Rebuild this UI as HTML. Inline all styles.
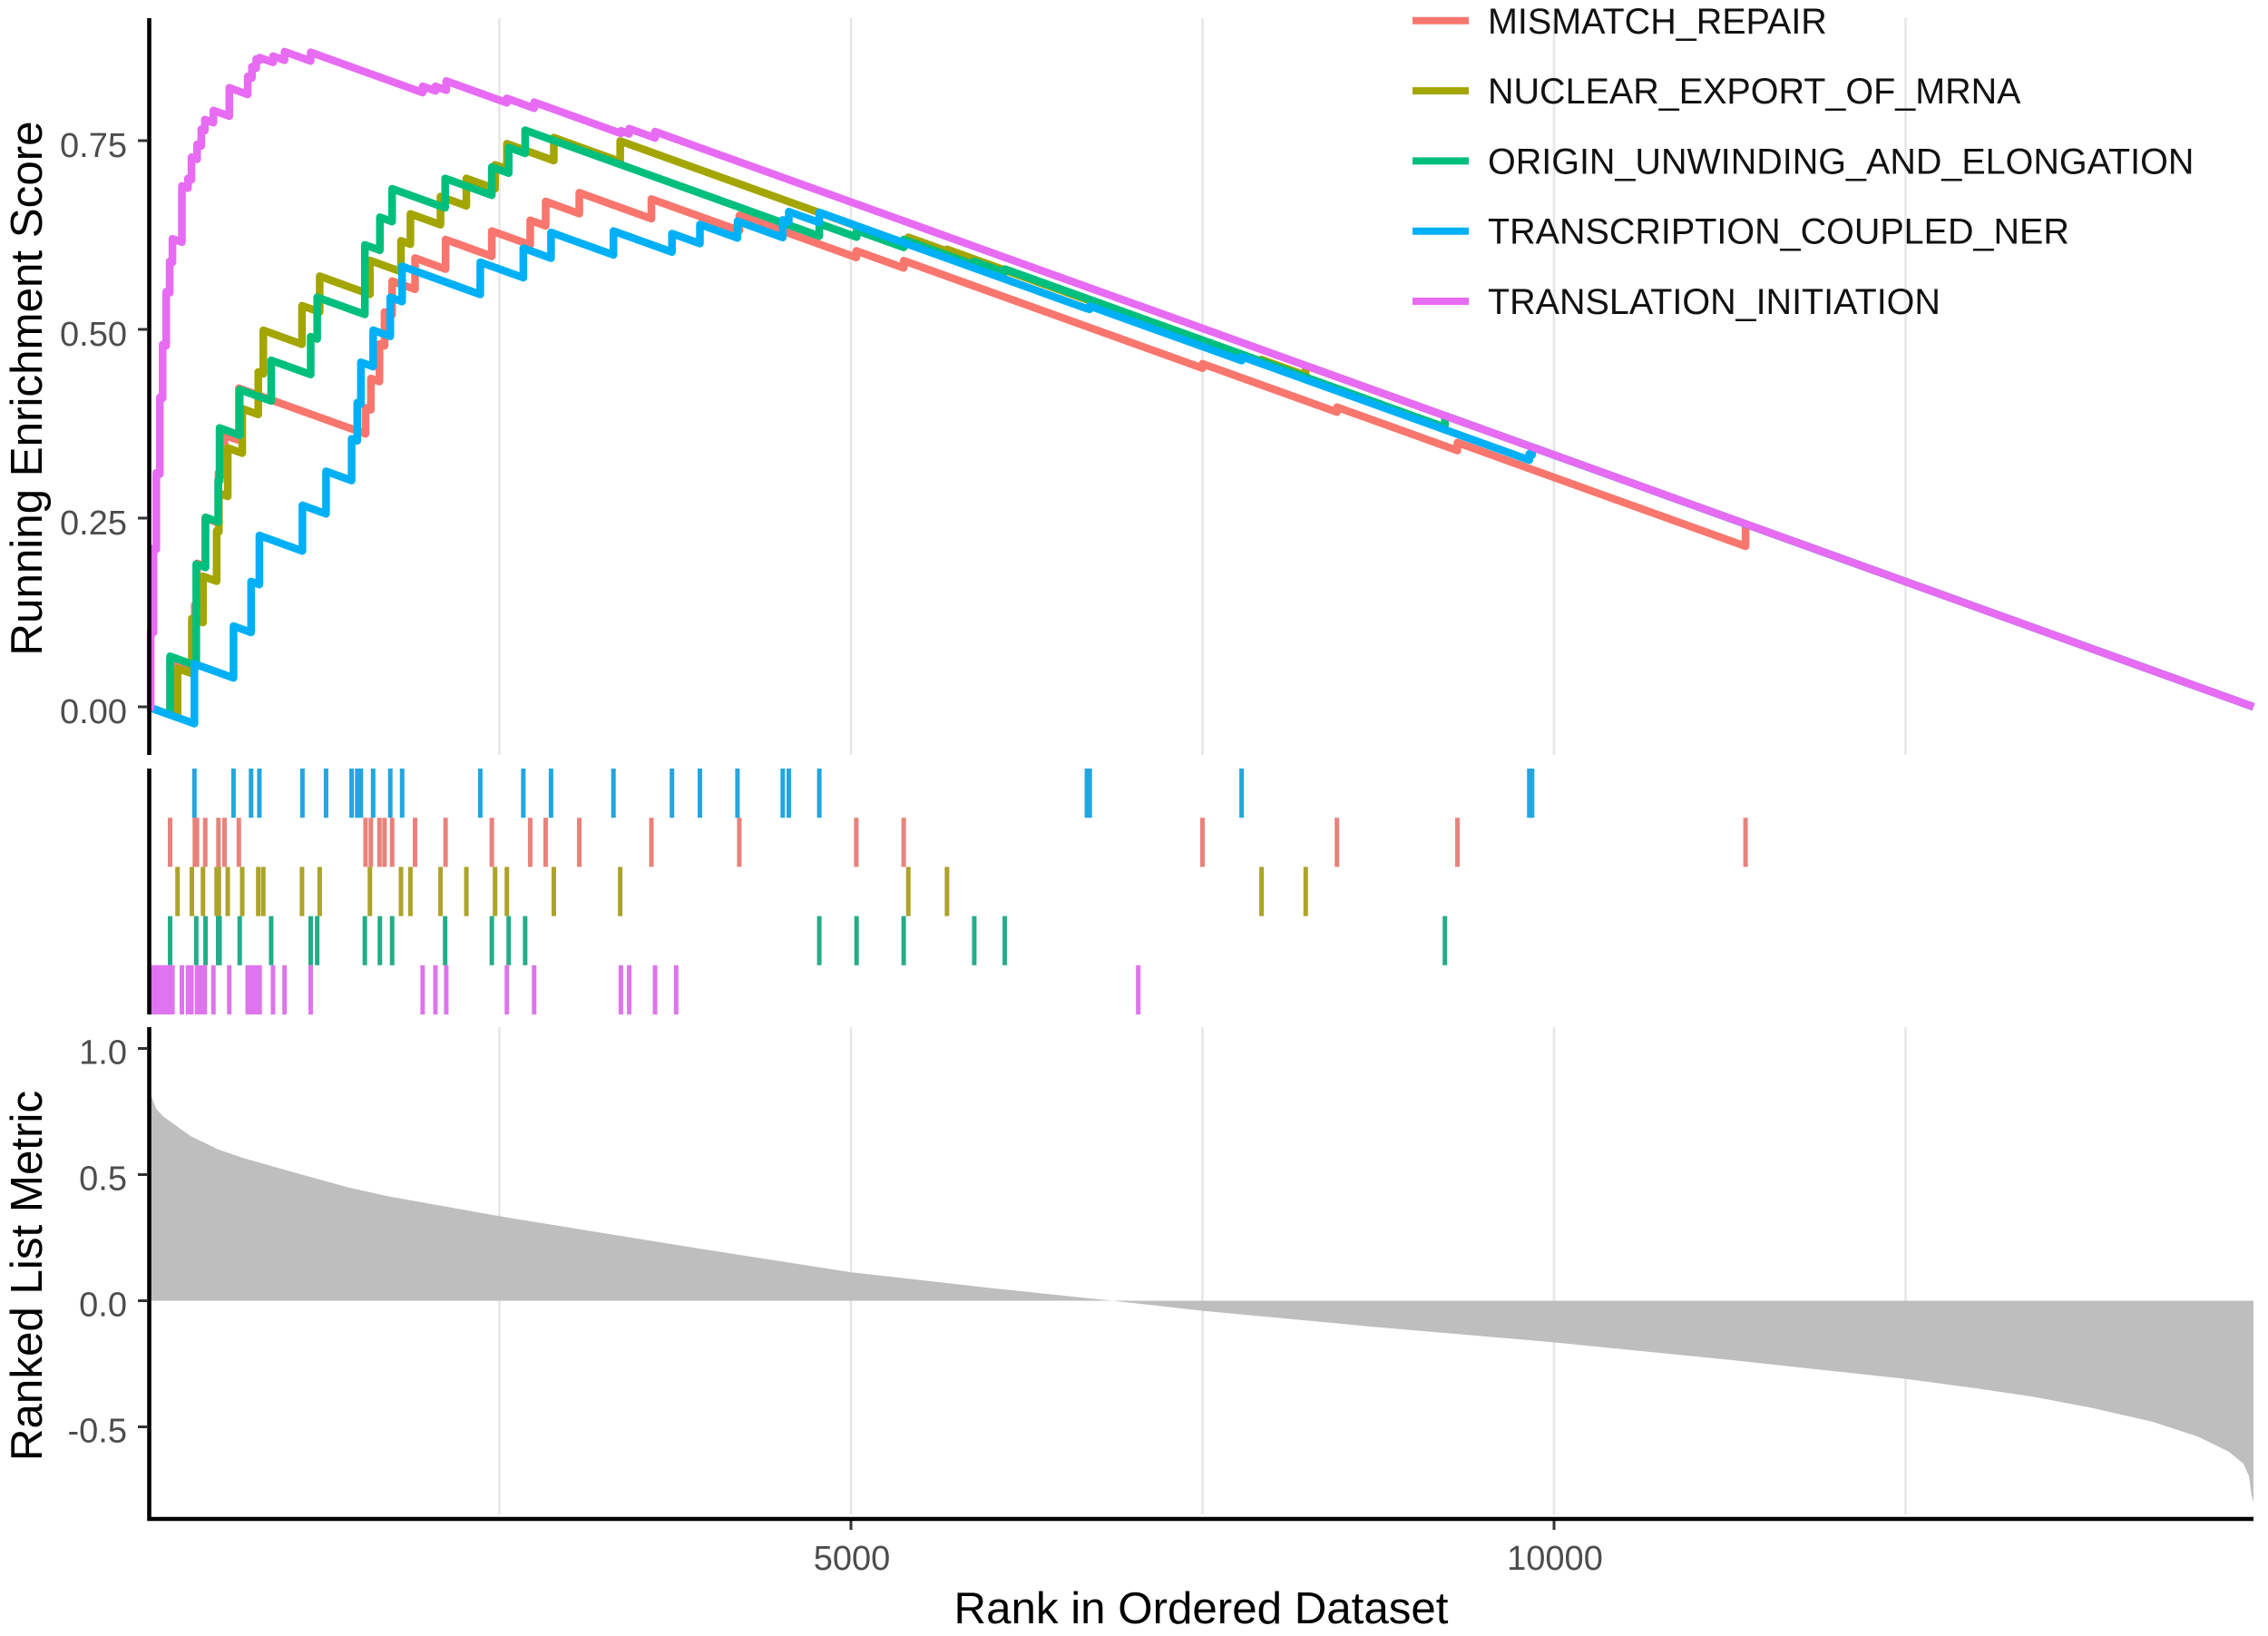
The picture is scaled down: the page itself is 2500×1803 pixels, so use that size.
<!DOCTYPE html>
<html lang="en">
<head>
<meta charset="utf-8">
<title>GSEA running enrichment score plot</title>
<style>
html,body{margin:0;padding:0;background:#fff;}
svg{display:block;font-family:"Liberation Sans",Arial,sans-serif;}
</style>
</head>
<body>
<svg id="chart" width="2500" height="1803" viewBox="0 0 2500 1803" xmlns="http://www.w3.org/2000/svg">
  <rect width="2500" height="1803" fill="#ffffff"/>
  <g id="grid"></g>
  <g id="metric"></g>
  <g id="lines"></g>
  <g id="hits"></g>
  <g id="axes"></g>
  <text transform="translate(46,428) rotate(-90)" text-anchor="middle" font-size="49.3" fill="#000">Running Enrichment Score</text>
  <text transform="translate(46,1406) rotate(-90)" text-anchor="middle" font-size="49.3" fill="#000">Ranked List Metric</text>
  <text x="1324" y="1789" text-anchor="middle" font-size="49" textLength="545" lengthAdjust="spacingAndGlyphs" fill="#000">Rank in Ordered Dataset</text>
  <g id="legend"></g>
</svg>
<script>
// ---- data ----
const seriesNames = ["MISMATCH_REPAIR","NUCLEAR_EXPORT_OF_MRNA","ORIGIN_UNWINDING_AND_ELONGATION","TRANSCRIPTION_COUPLED_NER","TRANSLATION_INITIATION"];

const mismatchHits = [158,334,349,408,502,545,647,1548,1586,1647,1683,1737,1900,2117,2446,2719,2829,3068,3581,4206,5038,5375,7500,8456,9313,11362];
const mismatchScores = [.062,.135,.19,.25,.31,.36,.422,.396,.435,.4806,.523,.564,.5945,.619,.6303,.6446,.6694,.681,.6727,.651,.604,.591,.4545,.397,.35,.242];

const nuclearHits = [211,313,392,489,505,568,671,785,821,1096,1222,1579,1800,1867,2081,2265,2469,2553,2887,3359,5408,5683,7920,8234];
const nuclearScores = [.051,.117,.173,.233,.283,.343,.395,.4435,.4988,.5314,.5704,.5913,.6173,.653,.676,.70,.718,.746,.754,.7495,.622,.606,.46,.452];

const originHits = [158,344,410,500,510,653,877,1158,1204,1543,1650,1737,2114,2446,2566,2683,4775,5040,5375,5877,6094,9224];
const originScores = [.067,.189,.251,.30,.3694,.4202,.459,.4904,.5425,.612,.6486,.6863,.70,.715,.741,.7638,.64,.631,.619,.59,.58,.3858];

const transcriptionHits = [331,609,734,793,1099,1267,1449,1489,1515,1602,1724,1808,2364,2670,2867,3311,3727,3926,4193,4515,4558,4775,6678,6698,7778,9824,9844];
const transcriptionScores = [.057,.107,.166,.227,.267,.312,.355,.403,.4565,.499,.5425,.5835,.589,.6075,.6284,.6303,.627,.639,.6433,.645,.656,.655,.528,.531,.464,.335,.344];

const translationHits = [20,40,60,85,105,130,155,175,242,285,310,350,380,405,466,579,710,740,770,795,890,972,1158,1954,2045,2122,2553,2747,3364,3423,3607,3757,7043];
const translationScores = [.10,.21,.31,.41,.48,.55,.59,.62,.69,.70,.728,.745,.765,.778,.79,.82,.835,.848,.858,.86,.862,.868,.867,.822,.822,.829,.806,.801,.763,.766,.762,.752,.532];

const metricRanks = [0,25,60,110,303,500,677,1000,1419,1700,2000,2503,2819,3750,4400,5000,6000,6860,7500,8750,10000,11206,12500,13000,13400,13826,14258,14581,14800,14903,14942,14961,14974];
const metricValues = [.84,.81,.76,.73,.653,.60,.566,.515,.45,.415,.385,.335,.306,.222,.165,.113,.05,0,-.04,-.105,-.165,-.232,-.31,-.347,-.38,-.425,-.48,-.539,-.599,-.646,-.695,-.772,-.8];

const lastRank = 14974;
const missPenalty = 0.000067;
const scoreTicks = [0,.25,.5,.75];
const scoreTickLabels = ["0.00","0.25","0.50","0.75"];
const metricTicks = [-.5,0,.5,1];
const metricTickLabels = ["-0.5","0.0","0.5","1.0"];
const rankGrid = [2500,5000,7500,10000,12500];
const rankTicks = [5000,10000];
const rankTickLabels = ["5000","10000"];

// ---- axis functions ----
function xScale(r){ return 163 + r*0.155; }
function yScore(s){ return 779 - s*832; }
function yMetric(m){ return 1433.5 - m*278; }

// ---- style ----
const lineColors = ["#F8766D","#A3A500","#00BF7D","#00B0F6","#E76BF3"];
const hitColors = ["#E9827B","#ACA32A","#24AC88","#22A6E0","#DE74EE"];
const rowOrder = [3,0,1,2,4];
const rowTop = 847, rowHeight = 54.2;
const seriesHits = [mismatchHits,nuclearHits,originHits,transcriptionHits,translationHits];
const seriesScores = [mismatchScores,nuclearScores,originScores,transcriptionScores,translationScores];

const NS = "http://www.w3.org/2000/svg";
function make(tag, parentId, attrs, txt){
  const el = document.createElementNS(NS, tag);
  for (const k in attrs) el.setAttribute(k, attrs[k]);
  if (txt !== undefined) el.textContent = txt;
  document.getElementById(parentId).appendChild(el);
  return el;
}

// gridlines
rankGrid.forEach(function(r){
  const top = make("line","grid",{x1:xScale(r),x2:xScale(r),y1:20,y2:832,stroke:"#e6e6e6","stroke-width":2.5});
  
  
  const bot = make("line","grid",{x1:xScale(r),x2:xScale(r),y1:1132,y2:1669,stroke:"#e6e6e6","stroke-width":2.5});
  
  
});

// ranked metric area
(function(){
  let d = "M" + xScale(metricRanks[0]) + " " + yMetric(0);
  metricRanks.forEach(function(r,i){ d += "L" + xScale(r) + " " + yMetric(metricValues[i]); });
  d += "L" + xScale(metricRanks[metricRanks.length-1]) + " " + yMetric(0) + "Z";
  const area = make("path","metric",{d:d,fill:"#bebebe"});
  
  
})();

// running score lines
seriesNames.forEach(function(name,i){
  const hits = seriesHits[i], scores = seriesScores[i];
  let d = "M" + xScale(0) + " " + yScore(0);
  let pr = 0, ps = 0;
  hits.forEach(function(r,k){
    d += "L" + xScale(r) + " " + yScore(ps - missPenalty*(r-pr));
    d += "L" + xScale(r) + " " + yScore(scores[k]);
    pr = r; ps = scores[k];
  });
  d += "L" + xScale(lastRank) + " " + yScore(0);
  const p = make("path","lines",{d:d,fill:"none",stroke:lineColors[i],"stroke-width":8.5,"stroke-linejoin":"round","stroke-linecap":"butt"});
  
  
});

// hit ticks
rowOrder.forEach(function(si,row){
  seriesHits[si].forEach(function(r){
    const t = make("line","hits",{x1:xScale(r),x2:xScale(r),y1:rowTop+row*rowHeight,y2:rowTop+(row+1)*rowHeight,stroke:hitColors[si],"stroke-width":5});
    
    
  });
});

// axes
const axisSegs = [[164.5,20,164.5,832,'score-y-axis'],[164.5,847,164.5,1118,'hits-y-axis'],[164.5,1132,164.5,1676,'metric-y-axis'],[162.5,1674,2484,1674,'rank-x-axis']];
axisSegs.forEach(function(a){
  const l = make("line","axes",{x1:a[0],y1:a[1],x2:a[2],y2:a[3],stroke:"#000","stroke-width":4.6});
  
  
});
scoreTicks.forEach(function(v,i){
  const t = make("line","axes",{x1:152,x2:163,y1:yScore(v),y2:yScore(v),stroke:"#333","stroke-width":3});
  
  
  const l = make("text","axes",{x:140,y:yScore(v)+18,"text-anchor":"end","font-size":38,fill:"#4d4d4d"},scoreTickLabels[i]);
  
  
});
metricTicks.forEach(function(v,i){
  const t = make("line","axes",{x1:152,x2:163,y1:yMetric(v),y2:yMetric(v),stroke:"#333","stroke-width":3});
  
  
  const l = make("text","axes",{x:140,y:yMetric(v)+17,"text-anchor":"end","font-size":38,fill:"#4d4d4d"},metricTickLabels[i]);
  
  
});
rankTicks.forEach(function(r,i){
  const t = make("line","axes",{x1:xScale(r),x2:xScale(r),y1:1676,y2:1686,stroke:"#333","stroke-width":3});
  
  
  const l = make("text","axes",{x:xScale(r)+1,y:1730,"text-anchor":"middle","font-size":38,fill:"#4d4d4d"},rankTickLabels[i]);
  
  
});

// legend
seriesNames.forEach(function(name,i){
  const cy = 22.8 + i*77.3;
  const k = make("line","legend",{x1:1557,x2:1619,y1:cy,y2:cy,stroke:lineColors[i],"stroke-width":8});
  
  
  const t = make("text","legend",{x:1640,y:cy+14,"font-size":39.5,fill:"#111"},name);
  
  
});
</script>
</body>
</html>
